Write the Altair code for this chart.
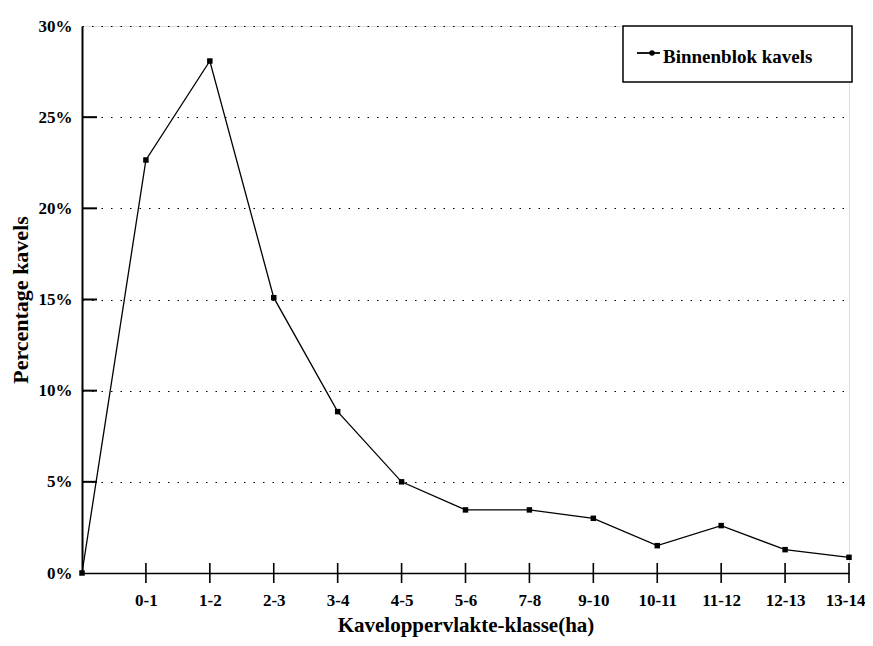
import altair as alt
import pandas as pd

# ---- data ----
categories = ["", "0-1", "1-2", "2-3", "3-4", "4-5", "5-6", "7-8", "9-10",
              "10-11", "11-12", "12-13", "13-14"]
percent = [0, 22.65, 28.08, 15.1, 8.85, 5.0, 3.46, 3.46, 3.0, 1.5, 2.6, 1.28, 0.86]
y_ticks = [0, 5, 10, 15, 20, 25, 30]
inner_ticks = [5, 10, 15, 20, 25]
series_name = "Binnenblok kavels"
x_title = "Kaveloppervlakte-klasse(ha)"
y_title = "Percentage kavels"

W, H = 767, 547
FONT = "Liberation Serif"

df = pd.DataFrame({"cat": categories, "pct": percent})
tick_df = pd.DataFrame({"cat": categories[1:]})
ytick_df = pd.DataFrame({"v": inner_ticks})
leg_df = pd.DataFrame({"label": [series_name]})

xscale = alt.Scale(type="point", domain=categories, padding=0)
yscale = alt.Scale(domain=[0, 30], nice=False)

x_enc = alt.X("cat:O", scale=xscale, sort=categories, title=x_title,
              axis=alt.Axis(labelAngle=0, ticks=False, labelPadding=19,
                            labelFlush=True, labelFlushOffset=16,
                            labelFont=FONT, labelFontSize=17, labelFontWeight="bold",
                            labelColor="black", domainColor="black", domainWidth=1.5,
                            titleFont=FONT, titleFontSize=21, titleFontWeight="bold",
                            titleColor="black", titlePadding=6,
                            grid=False))
y_enc = alt.Y("pct:Q", scale=yscale, title=y_title,
              axis=alt.Axis(values=y_ticks, labelExpr="datum.value + '%'",
                            ticks=False, labelPadding=10,
                            labelFont=FONT, labelFontSize=17, labelFontWeight="bold",
                            labelColor="black", domainColor="black", domainWidth=2,
                            titleFont=FONT, titleFontSize=22, titleFontWeight="bold",
                            titleColor="black", titlePadding=6,
                            grid=True, gridColor="black", gridDash=[1.5, 8],
                            gridWidth=1.2))

line = alt.Chart(df).mark_line(color="black", strokeWidth=1.3).encode(x=x_enc, y=y_enc)
pts = alt.Chart(df).mark_point(shape="square", filled=True, color="black",
                               size=30, opacity=1).encode(
    x=alt.X("cat:O", scale=xscale, sort=categories),
    y=alt.Y("pct:Q", scale=yscale))

xticks = alt.Chart(tick_df).mark_rule(color="black", strokeWidth=1.6).encode(
    x=alt.X("cat:O", scale=xscale, sort=categories),
    y=alt.value(H - 10), y2=alt.value(H + 10))

yticks = alt.Chart(ytick_df).mark_rule(color="black", strokeWidth=2).encode(
    y=alt.Y("v:Q", scale=yscale), x=alt.value(0), x2=alt.value(15))

leg_box = alt.Chart(leg_df).mark_rect(fill="white", stroke="black", strokeWidth=1.5).encode(
    x=alt.value(541), x2=alt.value(770), y=alt.value(0), y2=alt.value(56))
leg_line = alt.Chart(leg_df).mark_rule(color="black", strokeWidth=1.8).encode(
    x=alt.value(555), x2=alt.value(578), y=alt.value(27))
leg_pt = alt.Chart(leg_df).mark_point(shape="circle", filled=True, color="black",
                                      size=30, opacity=1).encode(
    x=alt.value(570), y=alt.value(27))
leg_text = alt.Chart(leg_df).mark_text(align="left", baseline="middle", font=FONT,
                                       fontSize=19, fontWeight="bold", color="black").encode(
    x=alt.value(581), y=alt.value(31), text="label:N")

chart = alt.layer(line, pts, xticks, yticks, leg_box, leg_line, leg_pt, leg_text).properties(
    width=W, height=H,
    autosize=alt.AutoSizeParams(type="none"),
    padding={"left": 74, "top": 18, "right": 16, "bottom": 65},
).configure_view(stroke="black", strokeWidth=1.5).configure(background="white")

chart.save("out.html", embed_options={"renderer": "svg", "actions": False})
